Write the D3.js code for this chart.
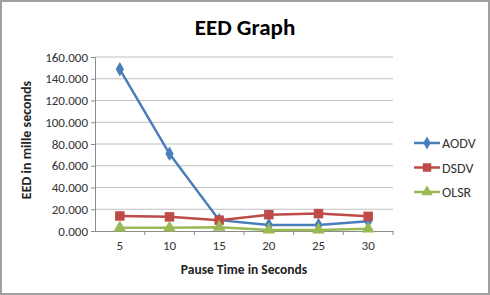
<!DOCTYPE html>
<html>
<head>
<meta charset="utf-8">
<title>EED Graph</title>
<script src="https://d3js.org/d3.v7.min.js"></script>
<style>
  body { margin: 0; background: #fff; }
  text { font-family: Calibri, Carlito, "Open Sans", "DejaVu Sans", sans-serif; }
</style>
</head>
<body>
<div id="chart"></div>
<script>
// data
const pauseTimes = ["5", "10", "15", "20", "25", "30"];
const aodv = [148.7, 71.0, 10.0, 5.5, 5.5, 9.0];
const dsdv = [13.8, 13.0, 10.0, 15.0, 16.0, 13.5];
const olsr = [3.0, 3.0, 3.5, 1.0, 1.0, 2.0];
const yTicks = [0, 20, 40, 60, 80, 100, 120, 140, 160];
const seriesNames = ["AODV", "DSDV", "OLSR"];

const W = 490, H = 295;
const margin = {top: 57, right: 97, bottom: 64, left: 95};
const width = W - margin.left - margin.right;
const height = H - margin.top - margin.bottom;

const svg = d3.select("#chart").append("svg")
    .attr("width", W).attr("height", H);

// outer frame
svg.append("rect")
    .attr("x", 1).attr("y", 1).attr("width", W - 2).attr("height", H - 2)
    .attr("fill", "#fff").attr("stroke", "#a0a0a0").attr("stroke-width", 2);

const g = svg.append("g").attr("transform", `translate(${margin.left},${margin.top})`);

const x = d3.scaleBand().domain(pauseTimes).range([0, width]);
const y = d3.scaleLinear().domain([0, 160]).range([height, 0]);

// gridlines
g.selectAll(".grid").data(yTicks.filter(d => d > 0)).enter()
    .append("line")
    .attr("x1", 0).attr("x2", width)
    .attr("y1", d => y(d)).attr("y2", d => y(d))
    .attr("stroke", "#c0c0c0").attr("stroke-width", 1);

// y axis
const yAxis = g.append("g")
    .call(d3.axisLeft(y).tickValues(yTicks).tickFormat(d3.format(".3f")).tickSize(4).tickPadding(3));
yAxis.select(".domain").attr("stroke", "#8c8c8c");
yAxis.selectAll(".tick line").attr("stroke", "#8c8c8c");
yAxis.selectAll("text").attr("font-size", 13).attr("fill", "#333");

// x axis
const xAxis = g.append("g").attr("transform", `translate(0,${height})`)
    .call(d3.axisBottom(x).tickSize(0).tickPadding(10));
xAxis.select(".domain").attr("stroke", "#8c8c8c");
xAxis.selectAll("text").attr("font-size", 13).attr("fill", "#333");
// tick marks at category boundaries
g.selectAll(".xb").data(pauseTimes.slice(1)).enter()
    .append("line")
    .attr("x1", d => x(d)).attr("x2", d => x(d))
    .attr("y1", height).attr("y2", height + 4)
    .attr("stroke", "#8c8c8c");
g.append("line").attr("x1", width).attr("x2", width)
    .attr("y1", height).attr("y2", height + 4).attr("stroke", "#8c8c8c");

// title & axis labels
svg.append("text").attr("x", 245).attr("y", 35)
    .attr("text-anchor", "middle").attr("font-size", 23).attr("font-weight", "bold")
    .text("EED Graph");
svg.append("text").attr("transform", "translate(31,140) rotate(-90)")
    .attr("text-anchor", "middle").attr("font-size", 14).attr("font-weight", "bold").attr("fill", "#222")
    .text("EED in mille seconds");
svg.append("text").attr("x", 244).attr("y", 274)
    .attr("text-anchor", "middle").attr("font-size", 13.5).attr("font-weight", "bold").attr("fill", "#222")
    .text("Pause Time in Seconds");

const series = [
    {name: "AODV", values: aodv, color: "#4a7ebb", symbol: d3.symbolDiamond, size: 60},
    {name: "DSDV", values: dsdv, color: "#be4b48", symbol: d3.symbolSquare, size: 90},
    {name: "OLSR", values: olsr, color: "#98b954", symbol: d3.symbolTriangle, size: 70}
];

const line = d3.line()
    .x((d, i) => x(pauseTimes[i]) + x.bandwidth() / 2)
    .y(d => y(d));

series.forEach(s => {
    g.append("path").datum(s.values)
        .attr("d", line).attr("fill", "none")
        .attr("stroke", s.color).attr("stroke-width", 2.5);
    g.selectAll(null).data(s.values).enter()
        .append("path")
        .attr("d", d3.symbol().type(s.symbol).size(s.size))
        .attr("transform", (d, i) => `translate(${x(pauseTimes[i]) + x.bandwidth() / 2},${y(d)})`)
        .attr("fill", s.color);
});

// legend
const legend = svg.append("g").attr("transform", "translate(414,143)");
series.forEach((s, i) => {
    const row = legend.append("g").attr("transform", `translate(0,${i * 24.5})`);
    row.append("line").attr("x1", 0).attr("x2", 26).attr("y1", 0).attr("y2", 0)
        .attr("stroke", s.color).attr("stroke-width", 2.5);
    row.append("path").attr("d", d3.symbol().type(s.symbol).size(s.size * 0.8))
        .attr("transform", "translate(13,0)").attr("fill", s.color);
    row.append("text").attr("x", 28).attr("y", 5)
        .attr("font-size", 14).attr("fill", "#333").text(seriesNames[i]);
});
</script>
</body>
</html>
